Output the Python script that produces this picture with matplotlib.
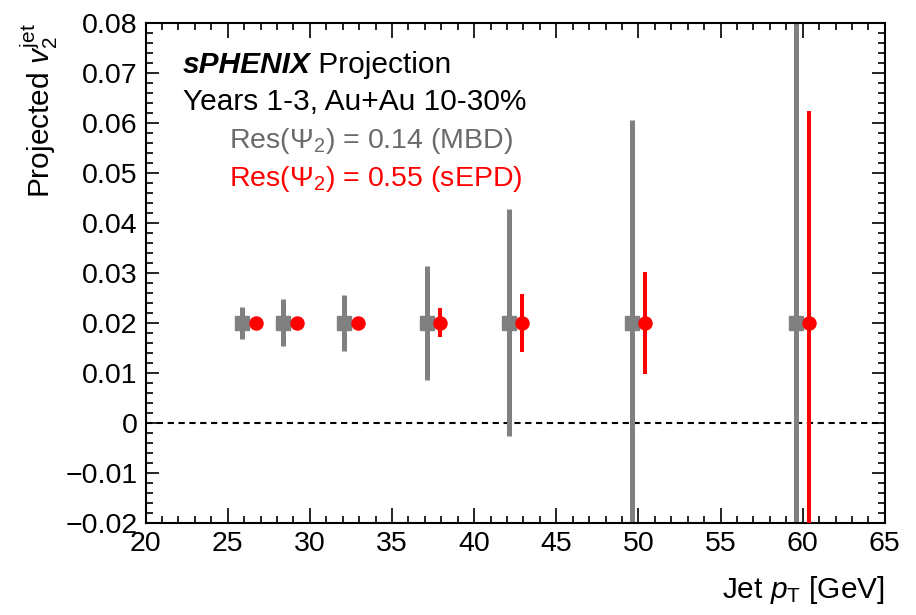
import matplotlib
matplotlib.use("Agg")
import matplotlib.pyplot as plt
from matplotlib.ticker import MultipleLocator, FuncFormatter

plt.rcParams['font.family'] = ['Liberation Sans', 'DejaVu Sans']
plt.rcParams['mathtext.fontset'] = 'custom'
plt.rcParams['mathtext.rm'] = 'Liberation Sans'
plt.rcParams['mathtext.it'] = 'Liberation Sans:italic'
plt.rcParams['mathtext.bf'] = 'Liberation Sans:bold'

# projected v2 points, MBD (gray) and sEPD (red)
pt_mbd = [25.85, 28.35, 32.1, 37.1, 42.1, 49.6, 59.6]
v2_mbd = [0.02, 0.02, 0.02, 0.02, 0.02, 0.02, 0.02]
err_mbd = [0.0032, 0.0047, 0.0056, 0.0114, 0.0227, 0.0405, 0.12]

pt_sepd = [26.7, 29.2, 32.9, 37.9, 42.9, 50.4, 60.4]
v2_sepd = [0.02, 0.02, 0.02, 0.02, 0.02, 0.02, 0.02]
err_sepd = [0.0008, 0.001, 0.0012, 0.0029, 0.0058, 0.0102, 0.0423]

gray = '#808080'
red = '#ff0000'

fig = plt.figure(figsize=(9.16, 6.15), dpi=100)
ax = fig.add_axes([0.159, 0.150, 0.807, 0.8126])

ax.axhline(0, color='black', lw=1.5, ls=(0, (3, 2.2)), zorder=1)

ax.errorbar(pt_mbd, v2_mbd, yerr=err_mbd, fmt='s', color=gray, ms=9.4,
            elinewidth=3.6, capsize=0, zorder=2)
ax.errorbar(pt_sepd, v2_sepd, yerr=err_sepd, fmt='o', color=red, ms=9.4,
            elinewidth=2.9, capsize=0, zorder=3)

ax.set_xlim(20, 65)
ax.set_ylim(-0.02, 0.08)

ax.xaxis.set_major_locator(MultipleLocator(5))
ax.xaxis.set_minor_locator(MultipleLocator(1))
ax.yaxis.set_major_locator(MultipleLocator(0.01))
ax.yaxis.set_minor_locator(MultipleLocator(0.002))

def yfmt(v, pos):
    if abs(v) < 1e-9:
        return '0'
    return ('%.2f' % v).replace('-', '\u2212')

ax.yaxis.set_major_formatter(FuncFormatter(yfmt))

ax.tick_params(which='both', direction='in', top=True, right=True, labelsize=20.5, width=1.2)
ax.tick_params(axis='x', which='major', length=10.5, pad=6)
ax.tick_params(axis='x', which='minor', length=5.3)
ax.tick_params(axis='y', which='major', length=9.5, pad=6)
ax.tick_params(axis='y', which='minor', length=4.8)
for s in ax.spines.values():
    s.set_linewidth(1.5)

ax.set_xlabel(r'Jet $p_{\rm T}$ [GeV]', fontsize=21.5, loc='right', labelpad=12)
ax.set_ylabel(r'Projected $v_{2}^{\rm jet}$', fontsize=21.5, loc='top', labelpad=4)

t = ax.text(0.05, 0.90, 'sPHENIX', transform=ax.transAxes, fontsize=21.5,
            fontweight='bold', fontstyle='italic', va='baseline')
ax.annotate(' Projection', xy=(1, 0), xycoords=t, fontsize=21.5, va='bottom')
ax.text(0.05, 0.826, 'Years 1-3, Au+Au 10-30%', transform=ax.transAxes,
        fontsize=21.5, va='baseline')
ax.text(0.113, 0.749, r'Res(Ψ$_2$) = 0.14 (MBD)', transform=ax.transAxes,
        fontsize=20.5, color='#6a6a6a', va='baseline')
ax.text(0.113, 0.674, r'Res(Ψ$_2$) = 0.55 (sEPD)', transform=ax.transAxes,
        fontsize=20.5, color=red, va='baseline')

fig.savefig('out.png', dpi=100)
